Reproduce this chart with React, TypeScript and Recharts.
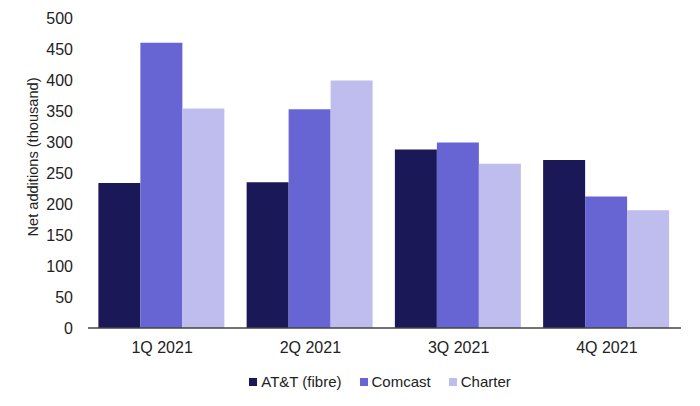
import React from "react";
import { BarChart, Bar, XAxis, YAxis, Label } from "recharts";

const quarters = ["1Q 2021", "2Q 2021", "3Q 2021", "4Q 2021"];
const attFibre = [234, 235, 288, 271];
const comcast = [460, 353, 299, 212];
const charter = [354, 399, 265, 190];
const yTicks = [0, 50, 100, 150, 200, 250, 300, 350, 400, 450, 500];

const seriesNames = ["AT&T (fibre)", "Comcast", "Charter"];
const seriesKeys = ["att", "comcast", "charter"];
const seriesColors = ["#1b1858", "#6764d3", "#bfbdee"];

const data = quarters.map((q, i) => ({
  quarter: q,
  att: attFibre[i],
  comcast: comcast[i],
  charter: charter[i],
}));

const FONT = "'Liberation Sans', Arial, sans-serif";
const TEXT = "#222";

const YLabel = (props: any) => {
  const vb = props.viewBox || { x: 0, y: 0, width: 0, height: 0 };
  const cx = 33;
  const cy = vb.y + vb.height / 2 - 16;
  return (
    <text
      x={cx}
      y={cy}
      transform={`rotate(-90, ${cx}, ${cy})`}
      textAnchor="middle"
      dominantBaseline="central"
      fill={TEXT}
      fontSize={14.6}
      fontFamily={FONT}
    >
      Net additions (thousand)
    </text>
  );
};

export default function App() {
  return (
    <div style={{ position: "absolute", left: 0, top: 0, width: 700, height: 406, background: "#fff" }}>
      <BarChart
        width={700}
        height={406}
        data={data}
        margin={{ top: 18, right: 19, bottom: 48, left: 0 }}
        barCategoryGap="7%"
        barGap={0}
        style={{ fontFamily: FONT }}
      >
        <XAxis
          dataKey="quarter"
          height={30}
          tickLine={false}
          tickSize={0}
          tickMargin={14}
          axisLine={{ stroke: "#444", strokeWidth: 1.5 }}
          tick={{ fill: TEXT, fontSize: 16, fontFamily: FONT }}
        />
        <YAxis
          width={88}
          domain={[0, 500]}
          ticks={yTicks}
          interval={0}
          axisLine={false}
          tickLine={false}
          tickSize={0}
          tickMargin={15}
          tick={{ fill: TEXT, fontSize: 16, fontFamily: FONT }}
        >
          <Label content={YLabel} />
        </YAxis>
        {seriesKeys.map((k, i) => (
          <Bar key={k} dataKey={k} name={seriesNames[i]} fill={seriesColors[i]} isAnimationActive={false} />
        ))}
      </BarChart>
      <div
        style={{
          position: "absolute",
          left: 0,
          width: 760,
          top: 372,
          display: "flex",
          justifyContent: "center",
          alignItems: "center",
          fontFamily: FONT,
          fontSize: 15,
          color: TEXT,
          lineHeight: "20px",
        }}
      >
        {seriesNames.map((n, i) => (
          <div key={n} style={{ display: "flex", alignItems: "center", marginRight: i < 2 ? 18 : 0 }}>
            <span style={{ display: "inline-block", width: 8, height: 8, background: seriesColors[i], marginRight: 4 }} />
            <span>{n}</span>
          </div>
        ))}
      </div>
    </div>
  );
}
